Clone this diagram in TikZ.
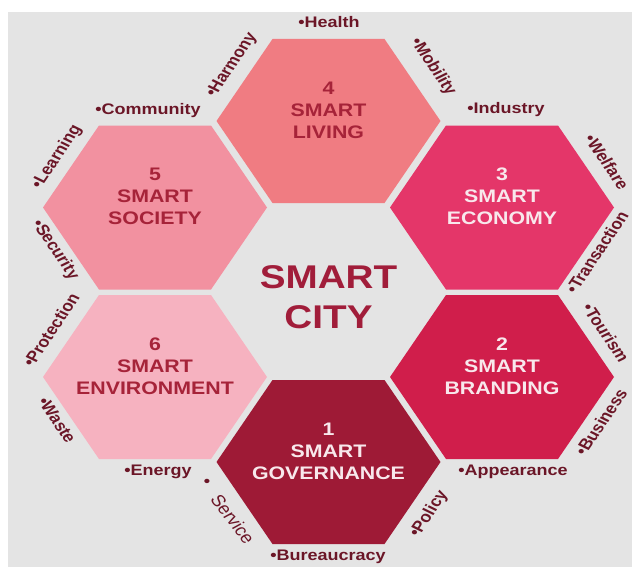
\documentclass[tikz,border=0pt]{standalone}
\usepackage{fontspec}
\setsansfont{Liberation Sans}
\definecolor{SCGray}{HTML}{E4E4E4}
\definecolor{SCLabel}{HTML}{6B1627}
\definecolor{SCDeep}{HTML}{A11D3A}
\definecolor{SCRose}{HTML}{A62339}
\definecolor{SCLight}{HTML}{F8E8EC}
\definecolor{Hex1}{HTML}{9E1A36}
\definecolor{Hex2}{HTML}{D01E4B}
\definecolor{Hex3}{HTML}{E43669}
\definecolor{Hex4}{HTML}{F07C82}
\definecolor{Hex5}{HTML}{F291A0}
\definecolor{Hex6}{HTML}{F6B2C0}

\begin{document}
\begin{tikzpicture}[
    x=0.75pt, y=-0.75pt,
    font=\sffamily\bfseries,
    % 原图纵向压扁了一点
    squash/.style={yscale=0.85},
    lbl/.style={squash, text=SCLabel, inner sep=0pt,
        font=\sffamily\bfseries\fontsize{13.5}{16}\selectfont},
    hextext/.style={squash, align=center,
        font=\sffamily\bfseries\fontsize{16}{19.5}\selectfont}
]

    \useasboundingbox (0,0) rectangle (632,567);

    % --- 0. 背景 ---
    \fill[white] (0,0) rectangle (632,567);
    \fill[SCGray] (8,12) rectangle (632,567);

    \def\hw{112}
    \def\hs{56}
    \def\hh{82}

    % --- 1. 六边形 ---
    \foreach \cx/\cy/\col/\tcol/\num/\word/\nm in {
        328.5/121/Hex4/SCRose/4/LIVING/living,
        155/207.5/Hex5/SCRose/5/SOCIETY/society,
        502/207.5/Hex3/SCLight/3/ECONOMY/economy,
        155/377/Hex6/SCRose/6/ENVIRONMENT/environment,
        502/377/Hex2/SCLight/2/BRANDING/branding,
        328.5/462/Hex1/SCLight/1/GOVERNANCE/governance
    } {
        \fill[\col] (\cx-\hw,\cy) -- (\cx-\hs,\cy-\hh) -- (\cx+\hs,\cy-\hh)
            -- (\cx+\hw,\cy) -- (\cx+\hs,\cy+\hh) -- (\cx-\hs,\cy+\hh) -- cycle;
        \node[hextext, text=\tcol] (\nm) at (\cx,\cy-11) {\num\\SMART\\\word};
    }

    % --- 2. 中间大字 ---
    \node[squash, text=SCDeep, align=center,
        font=\sffamily\bfseries\fontsize{29}{35}\selectfont] (city) at (328.5,297) {SMART\\CITY};

    % --- 3. 周围的标签 ---
    \foreach \x/\y/\r/\txt/\nm in {
        329/22/0/Health/health,
        232/65/60/Harmony/harmony,
        433/67/-60/Mobility/mobility,
        148/111/0/Community/community,
        506/110/0/Industry/industry,
        57/157/60/Learning/learning,
        607/162/-60/Welfare/welfare,
        55/250/-60/Security/security,
        597/252/60/Transaction/transaction,
        51/330/60/Protection/protection,
        606/333/-60/Tourism/tourism,
        57/420/-60/Waste/waste,
        601/422/60/Business/business,
        158/472/0/Energy/energy,
        513/472/0/Appearance/appearance,
        429/514/60/Policy/policy,
        328/557/0/Bureaucracy/bureaucracy
    } {
        \node[lbl, rotate=\r] (\nm) at (\x,\y) {\textbullet\txt};
    }

    % Service 单独写: 点和字分开, 不加粗
    \node[lbl] (servicedot) at (207,483) {\textbullet};
    \node[lbl, font=\sffamily\fontsize{14.5}{16}\selectfont, rotate=-57] (service) at (233,519) {Service};

\end{tikzpicture}
\end{document}
